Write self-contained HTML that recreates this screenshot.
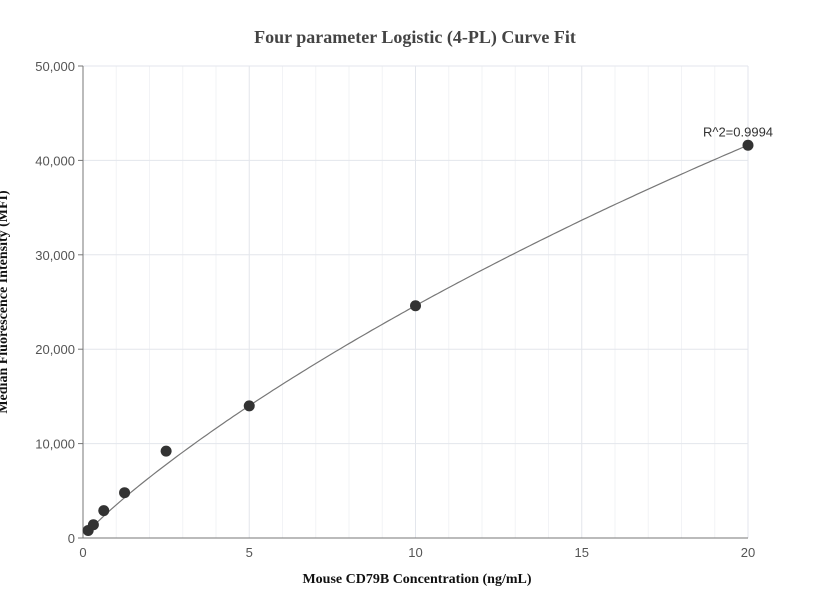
<!DOCTYPE html>
<html><head><meta charset="utf-8"><style>
body{margin:0;background:#fff;}
svg{display:block;font-family:"Liberation Sans",sans-serif;}
</style></head><body>
<svg id="chart" width="830" height="616">
<text x="415" y="43" text-anchor="middle" font-family="Liberation Serif" font-weight="bold" font-size="18" fill="#444">Four parameter Logistic (4-PL) Curve Fit</text>
<g id="grid"></g>
<g id="axes"></g>
<path id="curve" fill="none" stroke="#777" stroke-width="1.2"></path>
<g id="points"></g>
<text x="417" y="583" text-anchor="middle" font-family="Liberation Serif" font-weight="bold" font-size="14" fill="#111">Mouse CD79B Concentration (ng/mL)</text>
<text transform="translate(7,302) rotate(-90)" text-anchor="middle" font-family="Liberation Serif" font-weight="bold" font-size="14" fill="#111">Median Fluorescence Intensity (MFI)</text>
</svg>
<script>
const xValues=[0.156,0.3125,0.625,1.25,2.5,5,10,20];
const yValues=[800,1400,2900,4800,9200,14000,24600,41600];
const xTicks=[0,5,10,15,20];
const yTicks=[0,10000,20000,30000,40000,50000];
const fitParams=[0,0.89,101.8,218700]; // a,b,c,d
const r2Label="R^2=0.9994";
const NS="http://www.w3.org/2000/svg";
const X0=83,X1=748,Y0=538,Y1=66;
const sx=v=>X0+(v-0)/(20-0)*(X1-X0);
const sy=v=>Y0-(v/50000)*(Y0-Y1);
function mk(t,a,p){const e=document.createElementNS(NS,t);for(const k in a)e.setAttribute(k,a[k]);p.appendChild(e);return e;}
const grid=document.getElementById('grid'),axes=document.getElementById('axes');
for(let i=1;i<=20;i++){if(i%5===0)continue;const l=mk('line',{x1:sx(i),x2:sx(i),y1:Y1,y2:Y0,stroke:'#f2f3f6'},grid);

}
xTicks.forEach(v=>{if(v>0){const l=mk('line',{x1:sx(v),x2:sx(v),y1:Y1,y2:Y0,stroke:'#e3e6ec'},grid);

}
const t=mk('text',{x:sx(v),y:Y0+19,'text-anchor':'middle','font-size':13,fill:'#555'},axes);t.textContent=v;

});
yTicks.forEach(v=>{if(v>0){const l=mk('line',{x1:X0,x2:X1,y1:sy(v),y2:sy(v),stroke:'#e3e6ec'},grid);

}
mk('line',{x1:X0-5,x2:X0,y1:sy(v),y2:sy(v),stroke:'#777'},axes);
const t=mk('text',{x:X0-8,y:sy(v)+5,'text-anchor':'end','font-size':13,fill:'#555'},axes);t.textContent=v.toLocaleString('en-US');

});
mk('line',{x1:X0,x2:X0,y1:Y1,y2:Y0,stroke:'#777'},axes);
mk('line',{x1:X0,x2:X1,y1:Y0,y2:Y0,stroke:'#777'},axes);
const [a,b,c,d]=fitParams;
const f=x=>d+(a-d)/(1+Math.pow(x/c,b));
let p='';for(let i=0;i<=200;i++){const x=xValues[0]+(20-xValues[0])*i/200;p+=(i?'L':'M')+sx(x).toFixed(1)+','+sy(f(x)).toFixed(1);}
document.getElementById('curve').setAttribute('d',p);
const pts=document.getElementById('points');
xValues.forEach((x,i)=>{const c=mk('circle',{cx:sx(x),cy:sy(yValues[i]),r:5.5,fill:'#333'},pts);

});
const lab=mk('text',{x:sx(20)-10,y:sy(yValues[7])-9,'text-anchor':'middle','font-size':13,fill:'#333'},pts);
lab.textContent=r2Label;


</script>
</body></html>
